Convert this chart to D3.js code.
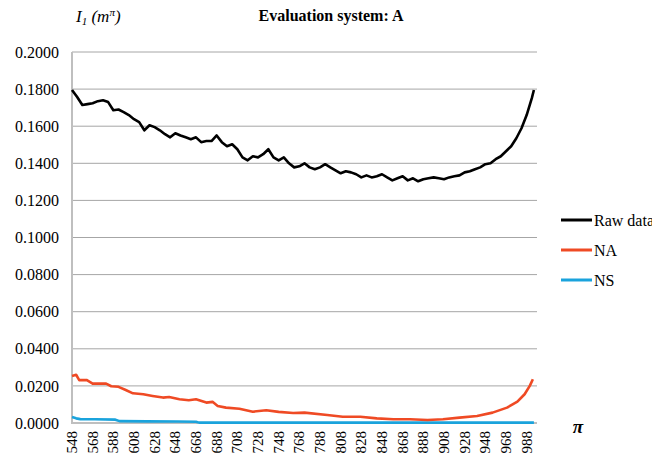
<!DOCTYPE html>
<html>
<head>
<meta charset="utf-8">
<script src="https://cdn.jsdelivr.net/npm/d3@7"></script>
<style>
  body { margin: 0; background: #fff; }
</style>
</head>
<body>
<svg id="chart" width="652" height="460" font-family="'Liberation Serif', 'DejaVu Serif', serif"></svg>
<script>
// ---- data ----
const rawX = [548,553,558,563,568,573,578,583,588,593,598,603,608,613,618,623,628,633,638,643,
  648,653,658,663,668,673,678,683,688,693,698,703,708,713,718,723,728,733,738,743,
  748,753,758,763,768,773,778,783,788,793,798,803,808,813,818,823,828,833,838,843,
  848,853,858,863,868,873,878,883,888,893,898,903,908,913,918,923,928,933,938,943,
  948,953,958,963,968,973,978,983,988,993,995];
const rawY = [0.1795,0.1757,0.1714,0.1719,0.1724,0.1735,0.1740,0.1730,0.1686,0.1690,
  0.1676,0.1660,0.1638,0.1622,0.1578,0.1605,0.1595,0.1578,0.1557,0.1540,
  0.1562,0.1550,0.1540,0.1530,0.1540,0.1514,0.1520,0.1520,0.1550,0.1514,
  0.1492,0.1503,0.1476,0.1432,0.1416,0.1438,0.1432,0.1449,0.1476,0.1432,
  0.1416,0.1432,0.1400,0.1378,0.1384,0.1400,0.1378,0.1368,0.1378,0.1395,
  0.1378,0.1362,0.1346,0.1357,0.1351,0.1341,0.1324,0.1335,0.1324,0.1330,
  0.1341,0.1324,0.1308,0.1319,0.1330,0.1308,0.1319,0.1303,0.1314,0.1319,
  0.1324,0.1319,0.1314,0.1324,0.1330,0.1335,0.1351,0.1357,0.1368,0.1378,
  0.1395,0.1400,0.1422,0.1438,0.1465,0.1492,0.1535,0.1589,0.1660,0.1751,0.1795];

const naX = [548,552,555,562,568,581,586,593,600,607,617,626,636,642,652,661,668,678,684,689,
  697,710,723,736,748,762,773,795,810,827,843,859,875,892,907,923,940,955,969,979,
  986,991,994];
const naY = [0.0254,0.0260,0.0231,0.0232,0.0212,0.0212,0.0198,0.0195,0.0178,0.0160,
  0.0155,0.0146,0.0137,0.0140,0.0128,0.0123,0.0128,0.0110,0.0114,0.0092,
  0.0083,0.0077,0.0061,0.0069,0.0060,0.0054,0.0056,0.0043,0.0034,0.0034,
  0.0025,0.0020,0.0020,0.0016,0.0020,0.0029,0.0038,0.0056,0.0083,0.0115,
  0.0155,0.0200,0.0236];

const nsX = [548,552,556,570,590,594,620,650,668,671,995];
const nsY = [0.0032,0.0025,0.0021,0.0020,0.0018,0.0010,0.0009,0.0008,0.0007,0.0002,0.0002];

const xTicks = d3.range(548, 989, 20);
const yTicks = d3.range(0, 0.2001, 0.02);

const seriesNames = ["Raw data", "NA", "NS"];
const seriesColors = ["#000000", "#EF4A24", "#1AA3DC"];

// ---- chart ----
const svg = d3.select("#chart");
const serif = "'Liberation Serif', 'DejaVu Serif', serif";
const x = d3.scaleLinear().domain([548, 998]).range([72, 537]);
const y = d3.scaleLinear().domain([0, 0.2]).range([423, 52]);

// gridlines
svg.append("g")
  .selectAll("line")
  .data(yTicks.filter(d => d > 0.001))
  .enter().append("line")
    .attr("x1", x(548)).attr("x2", 537)
    .attr("y1", d => y(d)).attr("y2", d => y(d))
    .attr("stroke", "#a6a6a6").attr("stroke-width", 1);

// y tick labels
svg.append("g")
  .selectAll("text")
  .data(yTicks)
  .enter().append("text")
    .attr("x", 59)
    .attr("y", d => y(d))
    .attr("dy", "0.35em")
    .attr("text-anchor", "end")
    .style("font-family", serif)
    .style("font-size", "16px")
    .text(d3.format(".4f"));

// x tick labels (rotated)
svg.append("g")
  .selectAll("text")
  .data(xTicks)
  .enter().append("text")
    .attr("transform", d => `translate(${x(d) + 5},431) rotate(-90)`)
    .attr("text-anchor", "end")
    .style("font-family", serif)
    .style("font-size", "15px")
    .text(d => d);

// axes lines
svg.append("line")
  .attr("x1", 72).attr("x2", 72).attr("y1", y(0.2)).attr("y2", 424)
  .attr("stroke", "#bfbfbf").attr("stroke-width", 2);
svg.append("line")
  .attr("x1", 72).attr("x2", 537).attr("y1", y(0)).attr("y2", y(0))
  .attr("stroke", "#bfbfbf").attr("stroke-width", 2);

// series
const line = d3.line().x(d => x(d[0])).y(d => y(d[1]));
const series = [
  d3.zip(rawX, rawY),
  d3.zip(naX, naY),
  d3.zip(nsX, nsY)
];
svg.append("g")
  .selectAll("path")
  .data(series.slice().reverse())
  .enter().append("path")
    .attr("d", line)
    .attr("fill", "none")
    .attr("stroke", (d, i) => seriesColors[2 - i])
    .attr("stroke-width", 2.6)
    .attr("stroke-linejoin", "round");

// legend
const legend = svg.append("g")
  .selectAll("g")
  .data(seriesNames)
  .enter().append("g")
    .attr("transform", (d, i) => `translate(561,${220 + i * 30})`);
legend.append("line")
  .attr("x1", 0).attr("x2", 31)
  .attr("stroke", (d, i) => seriesColors[i])
  .attr("stroke-width", 3);
legend.append("text")
  .attr("x", 33).attr("dy", "0.35em")
  .style("font-family", serif)
  .style("font-size", "16px")
  .text(d => d);

// title
svg.append("text")
  .attr("x", 331).attr("y", 21)
  .attr("text-anchor", "middle")
  .style("font-family", serif)
  .style("font-size", "16px")
  .style("font-weight", "bold")
  .text("Evaluation system: A");

// y axis label: I1 (m^pi)
const yl = svg.append("text")
  .attr("x", 76).attr("y", 22)
  .style("font-family", serif)
  .style("font-size", "17px")
  .style("font-style", "italic");
yl.append("tspan").text("I");
yl.append("tspan").attr("dy", 3).style("font-size", "11px").text("1");
yl.append("tspan").attr("dy", -3).text(" (m");
yl.append("tspan").attr("dy", -6).style("font-size", "11px").text("π");
yl.append("tspan").attr("dy", 6).text(")");

// x axis label
svg.append("text")
  .attr("x", 578).attr("y", 433)
  .attr("text-anchor", "middle")
  .style("font-family", serif)
  .style("font-size", "19px")
  .style("font-weight", "bold")
  .style("font-style", "italic")
  .text("π");
</script>
</body>
</html>
